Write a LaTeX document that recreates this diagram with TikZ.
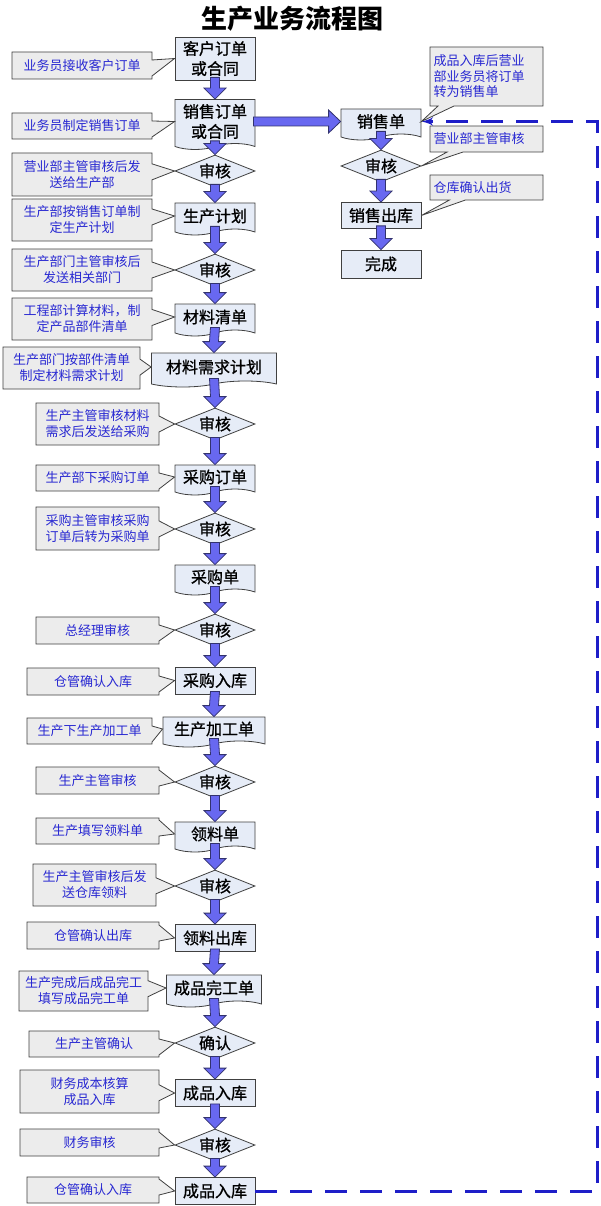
\documentclass[tikz,border=0pt]{standalone}
\usepackage{fontspec}
\setmainfont{Noto Sans CJK SC}
\newfontfamily\boxfont{Noto Sans CJK SC}[FakeBold=1]
\usetikzlibrary{arrows,shapes.geometric,shapes.symbols,shapes.callouts}

\begin{document}
\begin{tikzpicture}[>=latex', x=1pt, y=-1pt]

\definecolor{boxfill}{RGB}{230,236,247}
\definecolor{notefill}{RGB}{236,236,236}
\definecolor{notetext}{RGB}{40,40,210}
\definecolor{edgegray}{RGB}{64,64,64}
\definecolor{flowblue}{RGB}{104,104,240}
\definecolor{flowedge}{RGB}{50,50,110}
\definecolor{returnblue}{RGB}{30,30,200}

% Canvas
\useasboundingbox (0,0) rectangle (600,1206);
\fill[white] (0,0) rectangle (600,1206);

\tikzset{
    proc/.style={
        draw=edgegray, line width=0.8pt, fill=boxfill,
        rectangle, minimum width=80pt, minimum height=27pt,
        inner sep=2pt, font=\boxfont\fontsize{16}{20}\selectfont, align=center
    },
    doc/.style={
        proc, tape, tape bend top=none, tape bend bottom=in and out,
        tape bend height=6pt
    },
    check/.style={
        proc, diamond, aspect=2.5, minimum height=32pt, inner sep=0pt
    },
    note/.style={
        rectangle callout, draw=edgegray, line width=0.8pt, fill=notefill,
        text=notetext, font=\fontsize{13}{16}\selectfont, align=center,
        inner sep=3pt, callout pointer width=16pt
    },
    rnote/.style={
        note, align=left, text width=106pt, inner sep=3.5pt,
        font=\fontsize{13}{15.5}\selectfont
    },
    flow/.style={
        draw=flowedge, fill=flowblue, line width=0.8pt,
        to path={([xshift=-4.5pt,yshift=3pt]\tikztostart.south)
            -- ([xshift=-4.5pt,yshift=11pt]\tikztotarget.north)
            -- ([xshift=-11pt,yshift=11pt]\tikztotarget.north)
            -- (\tikztotarget.north)
            -- ([xshift=11pt,yshift=11pt]\tikztotarget.north)
            -- ([xshift=4.5pt,yshift=11pt]\tikztotarget.north)
            -- ([xshift=4.5pt,yshift=3pt]\tikztostart.south) -- cycle}
    },
    flowh/.style={
        draw=flowedge, fill=flowblue, line width=0.8pt,
        to path={([xshift=-2pt,yshift=4.5pt]\tikztostart.east)
            -- ([xshift=-12pt,yshift=4.5pt]\tikztotarget.west)
            -- ([xshift=-12pt,yshift=11.5pt]\tikztotarget.west)
            -- (\tikztotarget.west)
            -- ([xshift=-12pt,yshift=-11.5pt]\tikztotarget.west)
            -- ([xshift=-12pt,yshift=-4.5pt]\tikztotarget.west)
            -- ([xshift=-2pt,yshift=-4.5pt]\tikztostart.east) -- cycle}
    },
    back/.style={
        draw=returnblue, line width=3pt, dash pattern=on 22pt off 13pt, ->
    }
}

% Title
\node[font=\fontsize{26}{30}\selectfont\bfseries] (title) at (292,19) {生产业务流程图};

% --- MAIN COLUMN ---
\node[proc, minimum height=43pt] (cust) at (215,58.5) {客户订单\\或合同};
\node[doc, minimum height=50pt] (sord) at (215,121.5) {销售订单\\或合同};
\node[check] (chk1) at (215,171) {审核};
\node[doc, minimum height=32pt] (plan) at (215,216) {生产计划};
\node[check] (chk2) at (215,270) {审核};
\node[doc, minimum height=32pt] (bom) at (215,317) {材料清单};
\node[doc, minimum width=125pt, minimum height=34pt] (mrp) at (214,367) {材料需求计划};
\node[check] (chk3) at (215,424) {审核};
\node[doc, minimum height=30pt] (po) at (215,477) {采购订单};
\node[check] (chk4) at (215,529) {审核};
\node[doc, minimum height=30pt] (pur) at (215,577) {采购单};
\node[check] (chk5) at (215,630) {审核};
\node[proc] (pin) at (215,680.5) {采购入库};
\node[doc, minimum width=102pt, minimum height=30pt] (mfg) at (214,729) {生产加工单};
\node[check] (chk6) at (215,782) {审核};
\node[doc, minimum height=30pt] (pick) at (215,834) {领料单};
\node[check] (chk7) at (215,886) {审核};
\node[proc] (pout) at (215,938) {领料出库};
\node[doc, minimum width=95pt, minimum height=32pt] (fin) at (214,988) {成品完工单};
\node[check] (conf) at (215,1043) {确认};
\node[proc] (fin1) at (215,1093) {成品入库};
\node[check] (chk8) at (215,1145) {审核};
\node[proc] (fin2) at (215,1191) {成品入库};

% --- SALES COLUMN ---
\node[doc, minimum height=31pt] (sales) at (381,121.5) {销售单};
\node[check] (schk) at (381,166) {审核};
\node[proc, minimum height=26pt] (sout) at (381,215.5) {销售出库};
\node[proc, minimum height=28pt] (finish) at (381,264) {完成};

% --- FLOW ARROWS ---
\draw[flow] (cust) to (sord);
\draw[flow] (sord) to (chk1);
\draw[flow] (chk1) to (plan);
\draw[flow] (plan) to (chk2);
\draw[flow] (chk2) to (bom);
\draw[flow] (bom) to (mrp);
\draw[flow] (mrp) to (chk3);
\draw[flow] (chk3) to (po);
\draw[flow] (po) to (chk4);
\draw[flow] (chk4) to (pur);
\draw[flow] (pur) to (chk5);
\draw[flow] (chk5) to (pin);
\draw[flow] (pin) to (mfg);
\draw[flow] (mfg) to (chk6);
\draw[flow] (chk6) to (pick);
\draw[flow] (pick) to (chk7);
\draw[flow] (chk7) to (pout);
\draw[flow] (pout) to (fin);
\draw[flow] (fin) to (conf);
\draw[flow] (conf) to (fin1);
\draw[flow] (fin1) to (chk8);
\draw[flow] (chk8) to (fin2);

\draw[flowh] (sord) to (sales);
\draw[flow] (sales) to (schk);
\draw[flow] (schk) to (sout);
\draw[flow] (sout) to (finish);

% Return line
\coordinate (rturn) at (597,0);
\draw[back] (fin2.east) -- (fin2.east -| rturn) -- (sales.east -| rturn) -- (sales.east);

% --- LEFT NOTES ---
\node[note, minimum width=140pt, minimum height=27pt, callout absolute pointer={(cust.west)}] (n1) at (82,65.5) {业务员接收客户订单};
\node[note, minimum width=140pt, minimum height=26pt, callout absolute pointer={(sord.west)}] (n2) at (82,126) {业务员制定销售订单};
\node[note, minimum width=140pt, minimum height=43pt, callout absolute pointer={(chk1.west)}] (n3) at (82,174.5) {营业部主管审核后发\\送给生产部};
\node[note, minimum width=140pt, minimum height=42pt, callout absolute pointer={(plan.west)}] (n4) at (82,220) {生产部按销售订单制\\定生产计划};
\node[note, minimum width=140pt, minimum height=42pt, callout absolute pointer={(chk2.west)}] (n5) at (82,270) {生产部门主管审核后\\发送相关部门};
\node[note, minimum width=140pt, minimum height=42pt, callout absolute pointer={(bom.west)}] (n6) at (82,319) {工程部计算材料，制\\定产品部件清单};
\node[note, minimum width=137pt, minimum height=42pt, callout absolute pointer={(mrp.west)}] (n7) at (71.5,368) {生产部门按部件清单\\制定材料需求计划};
\node[note, minimum width=123pt, minimum height=42pt, callout absolute pointer={(chk3.west)}] (n8) at (97.5,424) {生产主管审核材料\\需求后发送给采购};
\node[note, minimum width=123pt, minimum height=26pt, callout absolute pointer={(po.west)}] (n9) at (97.5,478) {生产部下采购订单};
\node[note, minimum width=123pt, minimum height=43pt, callout absolute pointer={(chk4.west)}] (n10) at (97.5,528.5) {采购主管审核采购\\订单后转为采购单};
\node[note, minimum width=123pt, minimum height=27pt, callout absolute pointer={(chk5.west)}] (n11) at (97.5,630.5) {总经理审核};
\node[note, minimum width=132pt, minimum height=27pt, callout absolute pointer={(pin.west)}] (n12) at (93,681.5) {仓管确认入库};
\node[note, minimum width=125pt, minimum height=26pt, callout absolute pointer={(mfg.west)}] (n13) at (89.5,731) {生产下生产加工单};
\node[note, minimum width=123pt, minimum height=27pt, callout absolute pointer={(chk6.west)}] (n14) at (97.5,780.5) {生产主管审核};
\node[note, minimum width=123pt, minimum height=26pt, callout absolute pointer={(pick.west)}] (n15) at (97.5,831) {生产填写领料单};
\node[note, minimum width=123pt, minimum height=42pt, callout absolute pointer={(chk7.west)}] (n16) at (94.5,885) {生产主管审核后发\\送仓库领料};
\node[note, minimum width=132pt, minimum height=27pt, callout absolute pointer={(pout.west)}] (n17) at (93,935.5) {仓管确认出库};
\node[note, minimum width=129pt, minimum height=40pt, callout absolute pointer={(fin.west)}] (n18) at (83.5,991) {生产完成后成品完工\\填写成品完工单};
\node[note, minimum width=130pt, minimum height=26pt, callout absolute pointer={(conf.west)}] (n19) at (94,1044) {生产主管确认};
\node[note, minimum width=139pt, minimum height=43pt, callout absolute pointer={(fin1.west)}] (n20) at (89.5,1091.5) {财务成本核算\\成品入库};
\node[note, minimum width=139pt, minimum height=27pt, callout absolute pointer={(chk8.west)}] (n21) at (89.5,1142.5) {财务审核};
\node[note, minimum width=132pt, minimum height=26pt, callout absolute pointer={(fin2.west)}] (n22) at (93,1190) {仓管确认入库};

% --- RIGHT NOTES ---
\node[rnote, minimum height=59pt, callout absolute pointer={(sales.east)}] (r1) at (486.5,76.5) {成品入库后营业\\部业务员将订单\\转为销售单};
\node[rnote, minimum height=26pt, callout absolute pointer={(schk.east)}] (r2) at (486.5,139) {营业部主管审核};
\node[rnote, minimum height=25pt, callout absolute pointer={(sout.east)}] (r3) at (486.5,187.5) {仓库确认出货};

\end{tikzpicture}
\end{document}
